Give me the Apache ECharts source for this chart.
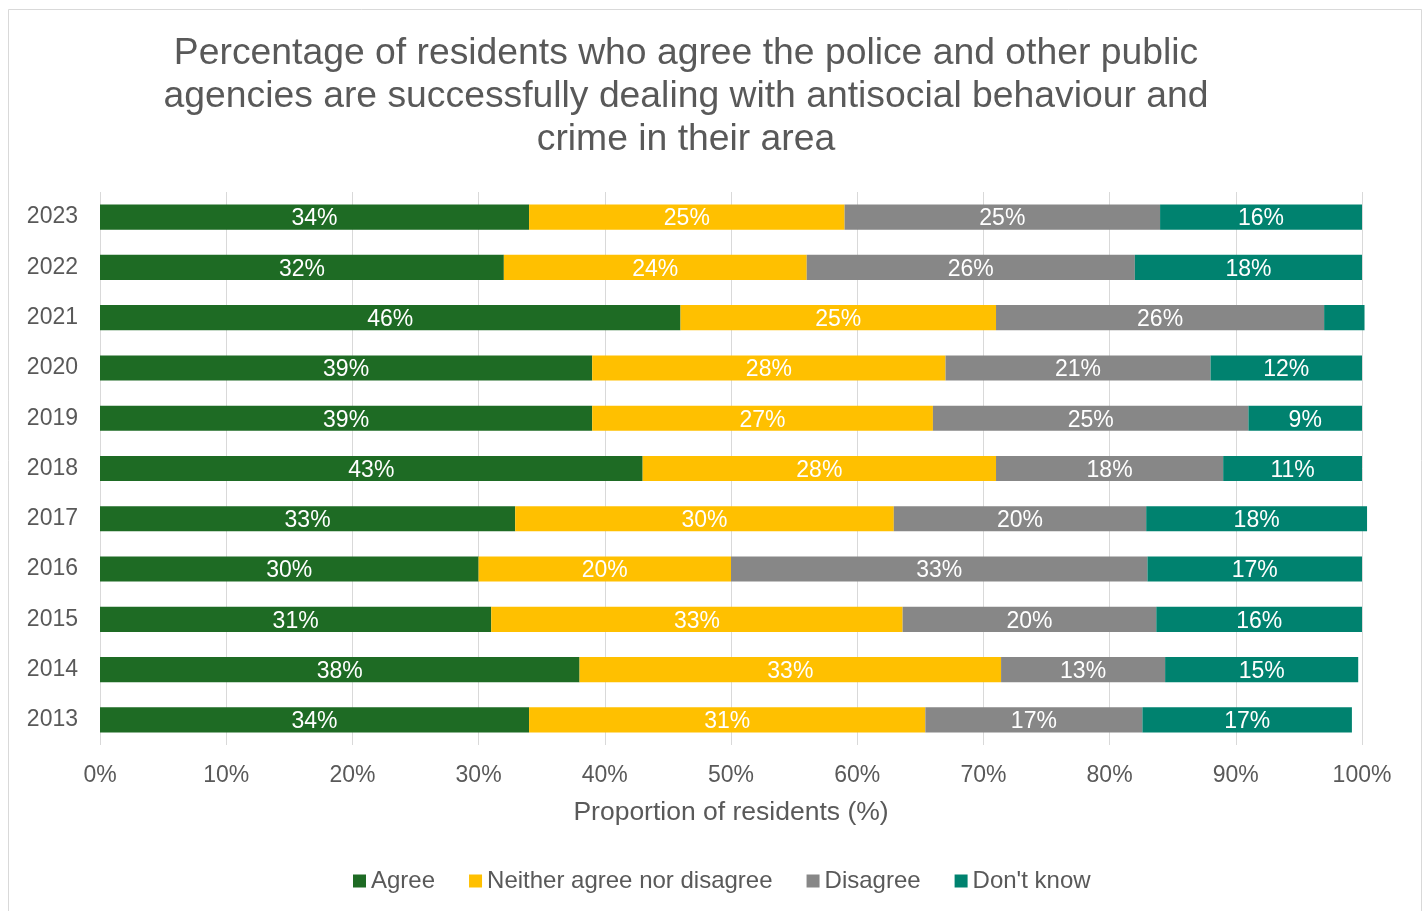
<!DOCTYPE html>
<html>
<head>
<meta charset="utf-8">
<script src="https://cdn.jsdelivr.net/npm/echarts@6/dist/echarts.min.js"></script>
<style>
html,body{margin:0;padding:0;background:#fff;}
#chart{width:1428px;height:911px;}
</style>
</head>
<body>
<div id="chart"></div>
<script>
// Data (bottom to top)
const years = ['2013','2014','2015','2016','2017','2018','2019','2020','2021','2022','2023'];
const agree    = [34,   38,   31,   30, 32.9, 43, 39, 39, 46,  32, 34];
const neither  = [31.4, 33.4, 32.6, 20, 30,   28, 27, 28, 25,  24, 25];
const disagree = [17.2, 13.0, 20.1, 33, 20,   18, 25, 21, 26,  26, 25];
const dontKnow = [16.6, 15.3, 16.3, 17, 17.5, 11,  9, 12, 3.2, 18, 16];
const xTicks = [0,10,20,30,40,50,60,70,80,90,100];
const seriesNames = ['Agree','Neither agree nor disagree','Disagree',"Don't know"];
const colors = ['#1E6B24','#FFC000','#878787','#00826F'];

const FONT = '"Liberation Sans", Arial, sans-serif';
const TXT = '#595959';

const chart = echarts.init(document.getElementById('chart'), null, {renderer:'canvas'});
const values = [agree, neither, disagree, dontKnow];

const series = seriesNames.map((name, i) => ({
  name: name,
  type: 'bar',
  stack: 'total',
  barWidth: '50%',
  clip: false,
  data: values[i],
  itemStyle: { color: colors[i] },
  label: {
    show: true,
    position: 'inside',
    offset: [0, 2],
    color: '#fff',
    fontFamily: FONT,
    fontSize: 23,
    formatter: p => p.value >= 5 ? Math.round(p.value) + '%' : ''
  },
  emphasis: { disabled: true }
}));

chart.setOption({
  animation: false,
  backgroundColor: '#fff',
  graphic: [{
    type: 'rect',
    shape: { x: 8.5, y: 9.5, width: 1413, height: 920 },
    style: { fill: 'none', stroke: '#d9d9d9', lineWidth: 1 },
    silent: true,
    z: -1
  }],
  title: {
    text: 'Percentage of residents who agree the police and other public\nagencies are successfully dealing with antisocial behaviour and\ncrime in their area',
    left: 681,
    top: 27,
    textAlign: 'center',
    textStyle: {
      fontFamily: FONT,
      fontSize: 37.3,
      fontWeight: 'normal',
      color: TXT,
      lineHeight: 43
    }
  },
  legend: {
    data: seriesNames,
    left: 348,
    top: 864,
    icon: 'rect',
    itemWidth: 13,
    itemHeight: 13,
    itemGap: 34,
    textStyle: { fontFamily: FONT, fontSize: 24, color: TXT }
  },
  grid: { left: 100, right: 66, top: 192, bottom: 166, containLabel: false },
  xAxis: {
    type: 'value',
    min: 0,
    max: 100,
    interval: 10,
    name: 'Proportion of residents (%)',
    nameLocation: 'middle',
    nameGap: 54,
    nameTextStyle: { fontFamily: FONT, fontSize: 26.5, color: TXT },
    axisLine: { show: false },
    axisTick: { show: false },
    axisLabel: {
      formatter: v => xTicks.includes(v) ? v + '%' : '',
      fontFamily: FONT, fontSize: 23, color: TXT, margin: 19
    },
    splitLine: { show: true, lineStyle: { color: '#d9d9d9', width: 1 } }
  },
  yAxis: {
    type: 'category',
    data: years,
    axisLine: { show: false },
    axisTick: { show: false },
    axisLabel: { fontFamily: FONT, fontSize: 23, color: TXT, margin: 22, lineHeight: 27, padding: [4, 0, 0, 0] },
    splitLine: { show: false }
  },
  series: series
});
</script>
</body>
</html>
